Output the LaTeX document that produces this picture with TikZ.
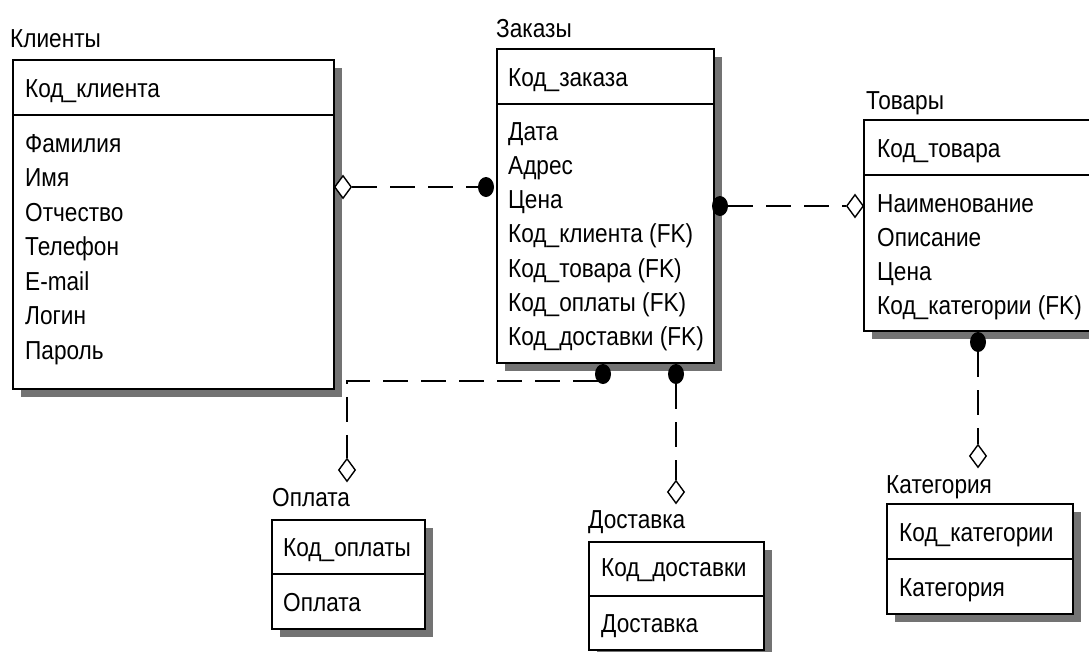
\documentclass[tikz,border=0pt]{standalone}
\usepackage{fontspec}
\setmainfont[FakeStretch=0.87]{Liberation Sans}
\usetikzlibrary{shapes.geometric,shadows}

\newcommand{\erfont}{\fontsize{26}{30}\selectfont}

\tikzset{
  entity/.style={draw, line width=1.8pt, fill=white, anchor=north west, inner sep=0pt,
    drop shadow={shadow xshift=8pt, shadow yshift=-8pt, fill=black!55, opacity=1}},
  divider/.style={line width=1.8pt},
  lbl/.style={anchor=base west, inner sep=0pt, font=\erfont},
  rel/.style={line width=1.8pt, dash pattern=on 25pt off 13pt},
  onedot/.style={ellipse, fill=black, inner sep=0pt, minimum width=16pt, minimum height=20pt},
  zeromany/.style={diamond, draw, fill=white, line width=1.4pt, inner sep=0pt,
    minimum width=17pt, minimum height=23pt},
}

\begin{document}
\begin{tikzpicture}[x=1pt, y=-1pt]
\useasboundingbox (0,0) rectangle (1089,651);

% ---- entity boxes ----
\node[entity, minimum width=321, minimum height=329] (kl) at (12,59) {};
\node[entity, minimum width=217, minimum height=314] (zk) at (496,48) {};
\node[entity, minimum width=240, minimum height=211] (tv) at (863,119) {};
\node[entity, minimum width=153, minimum height=109] (op) at (271,519) {};
\node[entity, minimum width=175, minimum height=108] (ds) at (588,541) {};
\node[entity, minimum width=186, minimum height=110] (kt) at (886,503) {};

% ---- key / attribute dividers ----
\draw[divider] (kl.west |- 0,115) -- (kl.east |- 0,115);
\draw[divider] (zk.west |- 0,104) -- (zk.east |- 0,104);
\draw[divider] (tv.west |- 0,175) -- (tv.east |- 0,175);
\draw[divider] (op.west |- 0,574) -- (op.east |- 0,574);
\draw[divider] (ds.west |- 0,596) -- (ds.east |- 0,596);
\draw[divider] (kt.west |- 0,559) -- (kt.east |- 0,559);

% ---- entity names ----
\node[lbl] (kl-name) at (10,47) {Клиенты};
\node[lbl] (zk-name) at (496,37) {Заказы};
\node[lbl] (tv-name) at (866,109) {Товары};
\node[lbl] (op-name) at (272,506) {Оплата};
\node[lbl] (ds-name) at (588,528) {Доставка};
\node[lbl] (kt-name) at (886,493) {Категория};

% ---- Клиенты ----
\node[lbl] (kl-key) at (25,97) {Код\_клиента};
\foreach \t [count=\i] in {Фамилия, Имя, Отчество, Телефон, E-mail, Логин, Пароль}
  \node[lbl] (kl-a\i) at (25,{152+34.5*(\i-1)}) {\t};

% ---- Заказы ----
\node[lbl] (zk-key) at (508,86) {Код\_заказа};
\foreach \t [count=\i] in {Дата, Адрес, Цена, Код\_клиента (FK), Код\_товара (FK),
    Код\_оплаты (FK), Код\_доставки (FK)}
  \node[lbl] (zk-a\i) at (508,{140+34.3*(\i-1)}) {\t};

% ---- Товары ----
\node[lbl] (tv-key) at (877,157) {Код\_товара};
\foreach \t [count=\i] in {Наименование, Описание, Цена, Код\_категории (FK)}
  \node[lbl] (tv-a\i) at (877,{212+34.3*(\i-1)}) {\t};

% ---- Оплата ----
\node[lbl] (op-key) at (283,556) {Код\_оплаты};
\node[lbl] (op-a1) at (283,611) {Оплата};

% ---- Доставка ----
\node[lbl] (ds-key) at (601,576) {Код\_доставки};
\node[lbl] (ds-a1) at (601,632) {Доставка};

% ---- Категория ----
\node[lbl] (kt-key) at (899,541) {Код\_категории};
\node[lbl] (kt-a1) at (899,596) {Категория};

% ---- relationship ends ----
\node[zeromany] (kl-end) at (343,187) {};
\node[onedot]   (zk-end1) at (486,187) {};
\node[onedot]   (zk-end2) at (720,206) {};
\node[zeromany] (tv-end1) at (855,206) {};
\node[onedot]   (zk-end3) at (603,374) {};
\node[zeromany] (op-end) at (347,470) {};
\node[onedot]   (zk-end4) at (676,374) {};
\node[zeromany] (ds-end) at (676,492) {};
\node[onedot]   (tv-end2) at (978,342) {};
\node[zeromany] (kt-end) at (978,456) {};

% ---- relationships ----
\draw[rel] (kl-end.east) -- (zk-end1.west);
\draw[rel] (zk-end2.east) -- (tv-end1.west);
\draw[rel] (zk-end3.225) -- ++(0,1) -| (op-end.north);
\draw[rel] (zk-end4.south) -- (ds-end.north);
\draw[rel] (tv-end2.south) -- (kt-end.north);
\end{tikzpicture}
\end{document}
